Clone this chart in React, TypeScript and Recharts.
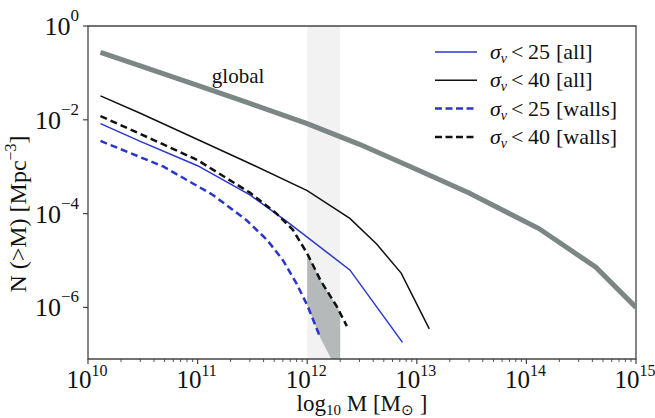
import React from 'react';
import {
  ComposedChart, Line, Area, XAxis, YAxis, ReferenceArea, ReferenceDot, Legend, Label,
} from 'recharts';

const FONT = '"Liberation Serif", "Times New Roman", serif';

// ---- data (mass in M_sun, number density in Mpc^-3) ----
const globalM = [1.3e10, 3e10, 1e11, 3e11, 1e12, 3e12, 1e13, 3e13, 1.3e14, 4.3e14, 1e15];
const globalN = [0.275, 0.141, 0.054, 0.0224, 0.0083, 0.003, 8.7e-4, 2.75e-4, 4.8e-5, 7.2e-6, 1.0e-6];

const sig40AllM = [1.3e10, 3e10, 1e11, 3e11, 1e12, 2.45e12, 4.3e12, 7.2e12, 1.3e13];
const sig40AllN = [0.0324, 0.0138, 0.0038, 1.17e-3, 3.1e-4, 7.9e-5, 2.24e-5, 5.4e-6, 3.5e-7];

const sig25AllM = [1.3e10, 3e10, 1e11, 3e11, 6.5e11, 2.45e12, 7.4e12];
const sig25AllN = [8.3e-3, 3.47e-3, 1.05e-3, 2.5e-4, 6.8e-5, 6.3e-6, 1.8e-7];

const sig40WallsM = [1.3e10, 3e10, 1e11, 3e11, 5.2e11, 7.4e11, 1e12, 1.32e12, 1.86e12, 2.3e12];
const sig40WallsN = [0.012, 5.0e-3, 1.38e-3, 2.8e-4, 1.02e-4, 4.5e-5, 1.41e-5, 3.8e-6, 1.05e-6, 4.0e-7];

const sig25WallsM = [1.3e10, 4.9e10, 1.38e11, 2.8e11, 4.3e11, 6.0e11, 8.0e11, 1e12, 1.32e12];
const sig25WallsN = [3.55e-3, 1.0e-3, 2.5e-4, 7.2e-5, 2.75e-5, 1.02e-5, 3.2e-6, 1.12e-6, 2.24e-7];

// shaded region between the two walls curves inside the 1e12 - 2e12 band
const shadeM = [1e12, 1.32e12, 1.66e12, 1.86e12, 2e12];
const shadeUpper = [1.41e-5, 3.8e-6, 1.6e-6, 1.05e-6, 7.6e-7];
const shadeLower = [1.12e-6, 2.24e-7, 7.9e-8, 7.9e-8, 7.9e-8];

const bandM = [1e12, 2e12];

const xMajorTicks = [1e10, 1e11, 1e12, 1e13, 1e14, 1e15];
const yMajorTicks = [1, 1e-2, 1e-4, 1e-6];
const xDomain = [1e10, 1e15];
const yDomain = [Math.pow(10, -7.1), 1];

const legendSigma = ['25', '40', '25', '40'];
const legendGroup = ['[all]', '[all]', '[walls]', '[walls]'];

const BLUE = '#2a36c9';
const BLACK = '#111111';
const GREY = '#7c8785';

const xMinorTicks: number[] = [];
for (let d = 10; d < 15; d++) for (let k = 2; k <= 9; k++) xMinorTicks.push(k * Math.pow(10, d));
const xTicks = [...xMajorTicks, ...xMinorTicks];

const toRows = (m: number[], n: number[]) => m.map((v, i) => ({ m: v, n: n[i] }));
const globalData = toRows(globalM, globalN);
const sig40AllData = toRows(sig40AllM, sig40AllN);
const sig25AllData = toRows(sig25AllM, sig25AllN);
const sig40WallsData = toRows(sig40WallsM, sig40WallsN);
const sig25WallsData = toRows(sig25WallsM, sig25WallsN);
const shadeData = shadeM.map((v, i) => ({ m: v, range: [shadeLower[i], shadeUpper[i]] }));

const legendStyles = [
  { color: BLUE, dash: undefined, width: 1.5 },
  { color: BLACK, dash: undefined, width: 1.5 },
  { color: BLUE, dash: '7 3.5', width: 2.5 },
  { color: BLACK, dash: '7 3.5', width: 2.5 },
];

const XTick = (props: any) => {
  const { x, y, payload } = props;
  const v = payload.value;
  const e = Math.log10(v);
  const major = Math.abs(e - Math.round(e)) < 1e-6;
  return (
    <g>
      <line x1={x} x2={x} y1={y} y2={y + (major ? 5 : 3)} stroke="#444" strokeWidth={major ? 1.2 : 0.9} />
      {major && (
        <text x={x - 1} y={y + 29} textAnchor="middle" fontFamily={FONT} fontSize={25} fill="#111">
          10<tspan dy={-12} fontSize={16}>{Math.round(e)}</tspan>
        </text>
      )}
    </g>
  );
};

const YTick = (props: any) => {
  const { x, y, payload } = props;
  const e = Math.round(Math.log10(payload.value));
  const lab = e < 0 ? '\u2212' + String(-e) : String(e);
  return (
    <g>
      <line x1={x - 5} x2={x} y1={y} y2={y} stroke="#444" strokeWidth={1.2} />
      <text x={x - 9} y={y + 9} textAnchor="end" fontFamily={FONT} fontSize={26} fill="#111">
        10<tspan dy={-14} fontSize={17}>{lab}</tspan>
      </text>
    </g>
  );
};

const renderLegend = () => (
  <svg width={225} height={120}>
    {legendSigma.map((s, i) => {
      const cy = 18 + i * 28.3;
      const st = legendStyles[i];
      return (
        <g key={i}>
          <line x1={10} x2={52} y1={cy} y2={cy} stroke={st.color} strokeWidth={st.width} strokeDasharray={st.dash} />
          <text x={65} y={cy + 7} fontFamily={FONT} fontSize={22} fill="#111">
            <tspan fontStyle="italic">σ</tspan>
            <tspan fontStyle="italic" fontSize={14} dy={4}>v</tspan>
            <tspan x={86} dy={-4}>&lt;</tspan>
            <tspan x={103}>{s}</tspan>
            <tspan x={131}>{legendGroup[i]}</tspan>
          </text>
        </g>
      );
    })}
  </svg>
);

export default function App() {
  return (
    <div style={{ position: 'absolute', left: 0, top: 0, width: 655, height: 418, background: '#fff' }}>
      <ComposedChart width={655} height={418} margin={{ top: 26, right: 19, bottom: 0, left: 0 }}>
        <XAxis
          dataKey="m"
          type="number"
          scale="log"
          domain={xDomain}
          allowDataOverflow
          ticks={xTicks}
          interval={0}
          tick={<XTick />}
          tickLine={false}
          tickSize={0}
          tickMargin={0}
          axisLine={false}
          height={59}
        >
          <Label
            content={() => (
              <text x={362} y={411} textAnchor="middle" fontFamily={FONT} fontSize={23} fill="#111">
                log<tspan fontSize={15} dy={4}>10</tspan>
                <tspan dy={-4}> M [M</tspan>
                <tspan fontSize={15} dy={4}>⊙</tspan>
                <tspan dy={-4}> ]</tspan>
              </text>
            )}
          />
        </XAxis>
        <YAxis
          type="number"
          scale="log"
          domain={yDomain}
          allowDataOverflow
          ticks={yMajorTicks}
          interval={0}
          tick={<YTick />}
          tickLine={false}
          tickSize={0}
          tickMargin={0}
          axisLine={false}
          width={88}
        >
          <Label
            content={() => (
              <text
                x={26}
                y={214}
                transform="rotate(-90 26 214)"
                textAnchor="middle"
                fontFamily={FONT}
                fontSize={24}
                fill="#111"
              >
                N (&gt;M) [Mpc<tspan fontSize={16} dy={-10}>−3</tspan>
                <tspan dy={10}>]</tspan>
              </text>
            )}
          />
        </YAxis>

        <ReferenceArea x1={bandM[0]} x2={bandM[1]} y1={yDomain[0]} y2={yDomain[1]} fill="#f2f2f2" fillOpacity={1} stroke="none" />

        <Area
          data={shadeData}
          dataKey="range"
          type="linear"
          fill="#b5b9b9"
          fillOpacity={1}
          stroke="none"
          isAnimationActive={false}
          dot={false}
          activeDot={false}
        />

        <Line data={sig25AllData} dataKey="n" type="linear" stroke={BLUE} strokeWidth={1.5} dot={false} activeDot={false} isAnimationActive={false} />
        <Line data={sig40AllData} dataKey="n" type="linear" stroke={BLACK} strokeWidth={1.5} dot={false} activeDot={false} isAnimationActive={false} />
        <Line data={sig25WallsData} dataKey="n" type="linear" stroke={BLUE} strokeWidth={2.5} strokeDasharray="7 4" dot={false} activeDot={false} isAnimationActive={false} />
        <Line data={sig40WallsData} dataKey="n" type="linear" stroke={BLACK} strokeWidth={2.5} strokeDasharray="7 4" dot={false} activeDot={false} isAnimationActive={false} />
        <Line data={globalData} dataKey="n" type="linear" stroke={GREY} strokeWidth={5} dot={false} activeDot={false} isAnimationActive={false} />

        <ReferenceDot
          x={2.34e11}
          y={0.088}
          r={1}
          fill="none"
          stroke="none"
          label={{ value: 'global', position: 'center', fontSize: 21, fill: '#111', fontFamily: FONT }}
        />

        <ReferenceArea x1={xDomain[0]} x2={xDomain[1]} y1={yDomain[0]} y2={yDomain[1]} fill="none" stroke="#444" strokeWidth={1.3} />

        <Legend
          layout="vertical"
          align="center"
          verticalAlign="middle"
          content={renderLegend}
          wrapperStyle={{ position: 'absolute', left: 425, top: 34, width: 225 }}
        />
      </ComposedChart>
    </div>
  );
}
